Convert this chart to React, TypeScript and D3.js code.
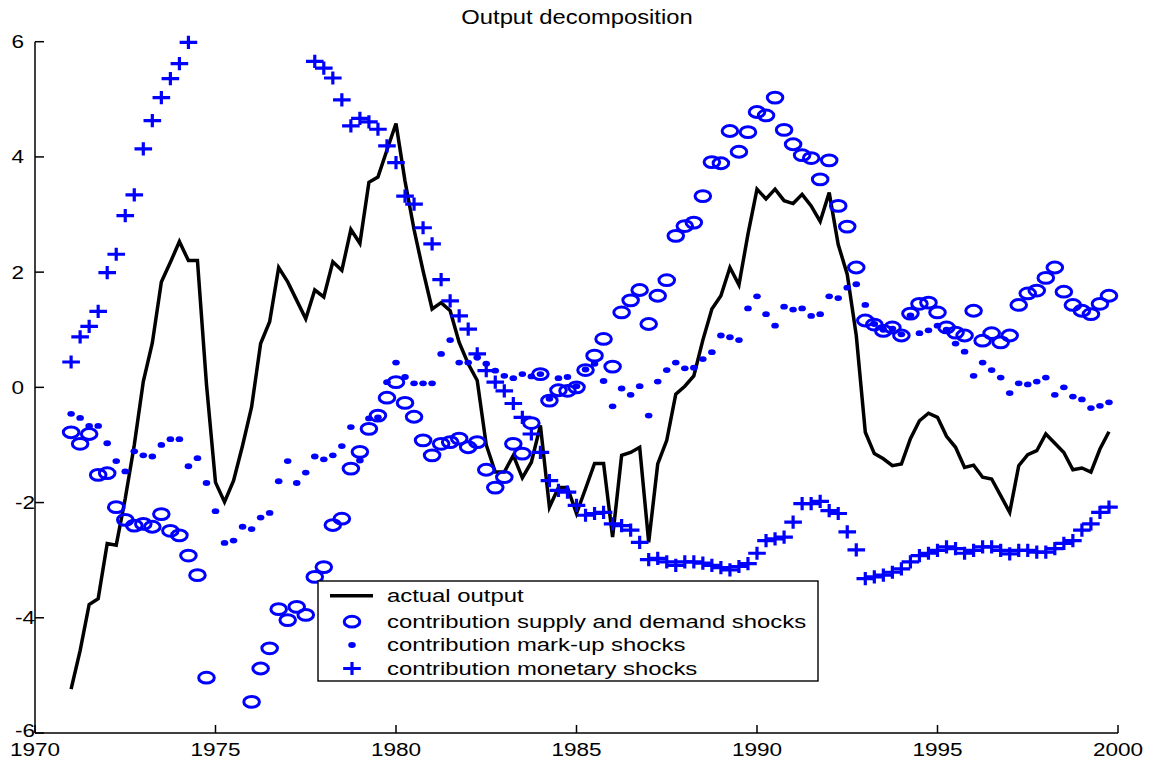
import * as d3 from 'd3'

// quarterly data, 1971Q1 .. 1999Q4 (null = outside the axes)
const startYear = 1971

const actualOutput = [
  -5.24, -4.57, -3.77, -3.67, -2.71, -2.74, -1.93, -1.0, 0.1, 0.77, 1.83, 2.17,
  2.53, 2.2, 2.2, 0.05, -1.65, -1.99, -1.62, -1.01, -0.34, 0.76, 1.14, 2.08,
  1.83, 1.51, 1.19, 1.69, 1.57, 2.18, 2.03, 2.74, 2.5, 3.56, 3.65, 4.12,
  4.58, 3.58, 2.74, 2.02, 1.36, 1.47, 1.33, 0.78, 0.41, 0.12, -1.0, -1.47,
  -1.47, -1.18, -1.57, -1.3, -0.66, -2.08, -1.74, -1.74, -2.19, -1.76, -1.32, -1.32,
  -2.6, -1.18, -1.13, -1.04, -2.69, -1.33, -0.92, -0.12, 0.02, 0.2, 0.82, 1.36,
  1.59, 2.08, 1.78, 2.66, 3.44, 3.27, 3.44, 3.24, 3.19, 3.35, 3.15, 2.88,
  3.38, 2.48, 1.96, 0.9, -0.78, -1.15, -1.24, -1.36, -1.33, -0.89, -0.58, -0.45,
  -0.52, -0.85, -1.04, -1.39, -1.35, -1.56, -1.59, -1.88, -2.17, -1.36, -1.17, -1.1,
  -0.81, -0.97, -1.13, -1.43, -1.4, -1.47, -1.07, -0.77,
]

const supplyDemand = [
  -0.78, -0.98, -0.81, -1.52, -1.49, -2.08, -2.3, -2.4, -2.37, -2.42, -2.2, -2.49,
  -2.57, -2.92, -3.26, -5.04, null, null, null, null, -5.46, -4.88, -4.53, -3.85,
  -4.04, -3.81, -3.95, -3.29, -3.12, -2.39, -2.28, -1.41, -1.12, -0.72, -0.49, -0.18,
  0.09, -0.27, -0.51, -0.92, -1.18, -0.98, -0.95, -0.89, -1.04, -0.95, -1.43, -1.74,
  -1.56, -0.98, -1.15, -0.62, 0.23, -0.23, -0.05, -0.06, 0.0, 0.3, 0.55, 0.84,
  0.36, 1.3, 1.51, 1.69, 1.1, 1.59, 1.86, 2.63, 2.8, 2.86, 3.32, 3.91,
  3.89, 4.45, 4.09, 4.43, 4.78, 4.72, 5.03, 4.47, 4.22, 4.03, 3.98, 3.61,
  3.94, 3.15, 2.79, 2.08, 1.16, 1.09, 0.98, 1.04, 0.9, 1.28, 1.45, 1.47,
  1.3, 1.04, 0.95, 0.9, 1.33, 0.81, 0.94, 0.78, 0.9, 1.43, 1.63, 1.68,
  1.9, 2.08, 1.66, 1.43, 1.33, 1.27, 1.45, 1.59,
]

const markUp = [
  -0.46, -0.53, -0.67, -0.67, -0.97, -1.28, -1.46, -1.11, -1.18, -1.2, -1.0, -0.9,
  -0.9, -1.37, -1.23, -1.66, -2.15, -2.7, -2.66, -2.42, -2.46, -2.26, -2.18, -1.63,
  -1.28, -1.66, -1.48, -1.2, -1.25, -1.18, -1.02, -0.69, -1.27, -0.54, -0.52, 0.09,
  0.43, 0.18, 0.07, 0.07, 0.07, 0.58, 0.82, 0.43, 0.43, 0.52, 0.41, 0.29,
  0.2, 0.16, 0.23, 0.19, 0.23, -0.2, 0.16, 0.18, 0.02, 0.31, 0.41, 0.11,
  -0.33, -0.02, -0.13, 0.02, -0.49, 0.1, 0.3, 0.43, 0.33, 0.34, 0.49, 0.61,
  0.9, 0.87, 0.82, 1.37, 1.58, 1.27, 1.07, 1.4, 1.35, 1.37, 1.24, 1.27,
  1.58, 1.55, 1.73, 1.79, 1.43, 1.1, 1.0, 1.02, 0.92, 1.25, 0.94, 0.99,
  1.07, 1.0, 0.76, 0.62, 0.2, 0.43, 0.3, 0.17, -0.1, 0.07, 0.05, 0.1,
  0.17, -0.13, 0.0, -0.16, -0.21, -0.36, -0.32, -0.26,
]

const monetary = [
  0.44, 0.875, 1.06, 1.32, 1.99, 2.31, 2.98, 3.34, 4.14, 4.63, 5.03, 5.36,
  5.62, 5.99, null, null, null, null, null, null, null, null, null, null,
  null, null, null, 5.66, 5.54, 5.37, 4.99, 4.54, 4.67, 4.61, 4.48, 4.19,
  3.9, 3.32, 3.18, 2.77, 2.49, 1.87, 1.5, 1.24, 1.01, 0.58, 0.29, 0.09,
  -0.06, -0.28, -0.52, -0.81, -1.13, -1.62, -1.79, -1.82, -2.05, -2.22, -2.19, -2.17,
  -2.37, -2.4, -2.48, -2.69, -2.99, -2.97, -3.03, -3.09, -3.03, -3.03, -3.05, -3.09,
  -3.13, -3.17, -3.11, -3.06, -2.88, -2.66, -2.63, -2.6, -2.34, -2.02, -2.02, -1.98,
  -2.14, -2.19, -2.51, -2.82, -3.32, -3.29, -3.26, -3.21, -3.15, -3.03, -2.92, -2.88,
  -2.83, -2.77, -2.8, -2.88, -2.83, -2.77, -2.77, -2.83, -2.89, -2.83, -2.83, -2.86,
  -2.86, -2.8, -2.71, -2.66, -2.48, -2.37, -2.17, -2.08,
]

const xTicks = [1970, 1975, 1980, 1985, 1990, 1995, 2000]
const yTicks = [-6, -4, -2, 0, 2, 4, 6]
const legendLabels = [
  'actual output',
  'contribution supply and demand shocks',
  'contribution mark-up shocks',
  'contribution monetary shocks',
]
const chartTitle = 'Output decomposition'

const quarters = actualOutput.map((_, i) => startYear + i / 4)

const W = 1159
const H = 762
const blue = '#0000ff'
const font = '"Liberation Sans", Arial, sans-serif'

// the figure was exported with a wider-than-tall pixel aspect, so text is stretched
const Label = (p: { x: number; y: number; text: string; anchor?: string; size?: number; sx?: number }) => (
  <text
    transform={`translate(${p.x},${p.y}) scale(${p.sx || 1.22},1)`}
    textAnchor={p.anchor || 'start'}
    fontFamily={font}
    fontSize={p.size || 18.5}
    fill="#000"
  >
    {p.text}
  </text>
)

const Circle = (p: { cx: number; cy: number }) => (
  <ellipse cx={p.cx} cy={p.cy} rx={7.8} ry={5.4} fill="none" stroke={blue} strokeWidth={3} />
)
const Dot = (p: { cx: number; cy: number }) => (
  <ellipse cx={p.cx} cy={p.cy} rx={3.8} ry={2.9} fill={blue} />
)
const Plus = (p: { cx: number; cy: number }) => (
  <path
    d={`M${p.cx - 8.8},${p.cy}H${p.cx + 8.8}M${p.cx},${p.cy - 6.6}V${p.cy + 6.6}`}
    stroke={blue}
    strokeWidth={3.2}
    fill="none"
  />
)

export default function App() {
  const x = d3.scaleLinear().domain([1970, 2000]).range([35, 1118])
  const y = d3.scaleLinear().domain([-6, 6]).range([733, 41.7])

  const line = d3
    .line<number>()
    .x((_, i) => x(quarters[i]))
    .y((d) => y(d))

  const left = x(1970)
  const bottom = y(-6)

  // legend geometry
  const lx = 318
  const ly = 581
  const lw = 500
  const lh = 100
  const rowY = [595.7, 621.7, 645, 668.5]
  const mx = 352

  return (
    <svg width={W} height={H} style={{ position: 'absolute', left: 0, top: 0, background: '#fff' }}>
      <rect width={W} height={H} fill="#fff" />

      {/* axes */}
      <line x1={left} x2={left} y1={y(6)} y2={bottom} stroke="#000" strokeWidth={1.5} />
      <line x1={left} x2={x(2000)} y1={bottom} y2={bottom} stroke="#000" strokeWidth={1.5} />
      {yTicks.map((t) => (
        <g key={'y' + t}>
          <line x1={left} x2={left + 9} y1={y(t)} y2={y(t)} stroke="#000" strokeWidth={1.5} />
          <Label x={t < 0 ? 35 : 24} y={y(t) + (t === -6 ? 3.5 : 6.5)} text={String(t)} anchor="end" />
        </g>
      ))}
      {xTicks.map((t) => (
        <g key={'x' + t}>
          <line x1={x(t)} x2={x(t)} y1={bottom} y2={bottom - 8} stroke="#000" strokeWidth={1.5} />
          <Label x={x(t)} y={756} text={String(t)} anchor="middle" />
        </g>
      ))}

      <Label x={577} y={24} text={chartTitle} anchor="middle" size={19.5} />

      {/* series */}
      <path d={line(actualOutput) || ''} fill="none" stroke="#000" strokeWidth={3.5} strokeLinejoin="miter" />
      {supplyDemand.map((v, i) => (v === null ? null : <Circle key={'c' + i} cx={x(quarters[i])} cy={y(v)} />))}
      {markUp.map((v, i) => (v === null ? null : <Dot key={'d' + i} cx={x(quarters[i])} cy={y(v)} />))}
      {monetary.map((v, i) => (v === null ? null : <Plus key={'p' + i} cx={x(quarters[i])} cy={y(v)} />))}

      {/* legend */}
      <rect x={lx} y={ly} width={lw} height={lh} fill="#fff" stroke="#000" strokeWidth={1.4} />
      <line x1={330} x2={373} y1={rowY[0]} y2={rowY[0]} stroke="#000" strokeWidth={3.5} />
      <Circle cx={mx} cy={rowY[1]} />
      <Dot cx={mx} cy={rowY[2]} />
      <Plus cx={mx} cy={rowY[3]} />
      {legendLabels.map((t, i) => (
        <Label key={t} x={387} y={rowY[i] + 6.3} text={t} sx={1.29} />
      ))}
    </svg>
  )
}
